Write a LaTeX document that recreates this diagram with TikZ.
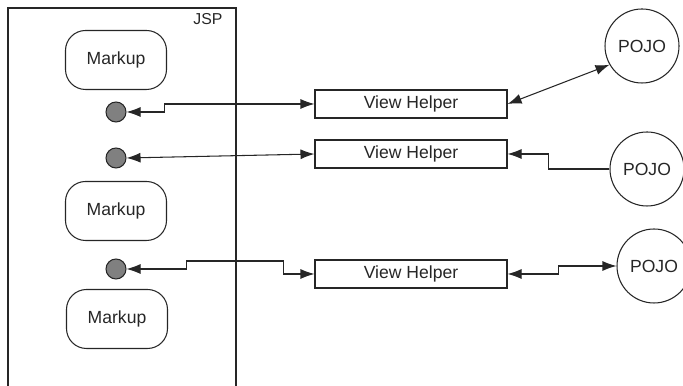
\documentclass[tikz,border=0pt]{standalone}
\usepackage{fontspec}
\setmainfont{Liberation Sans}
\usetikzlibrary{arrows.meta}
\begin{document}
\begin{tikzpicture}[line width=0.6pt,black!85,
		markup/.style={draw,rounded corners=4mm,minimum width=2.02cm,minimum height=1.18cm},
		helper/.style={draw,minimum width=3.84cm,minimum height=0.56cm,inner sep=0pt},
		pojo/.style={draw,circle,minimum size=1.48cm,inner sep=0pt},
		slot/.style={draw,circle,fill=black!50,minimum size=0.4cm,inner sep=0pt},
		tip/.style={-{Latex[length=2.8mm,width=2mm]}},
		tips/.style={{Latex[length=2.8mm,width=2mm]}-{Latex[length=2.8mm,width=2mm]}}]
			\useasboundingbox (0,0) rectangle (13.66,7.72);
			\draw (0.16,-0.2) rectangle (4.72,7.56) node[anchor=north east,inner sep=0pt,font=\small] (jsp) at (4.46,7.46) {JSP};
			\node[markup] (m1) at (2.32,6.52) {Markup};
			\node[markup] (m2) at (2.32,3.50) {Markup};
			\node[markup] (m3) at (2.34,1.34) {Markup};
			\node[slot] (c1) at (2.32,5.48) {};
			\node[slot] (c2) at (2.32,4.56) {};
			\node[slot] (c3) at (2.32,2.34) {};
			\node[helper] (vh1) at (8.22,5.64) {View Helper};
			\node[helper] (vh2) at (8.22,4.64) {View Helper};
			\node[helper] (vh3) at (8.22,2.24) {View Helper};
			\node[pojo] (p1) at (12.84,6.80) {POJO};
			\node[pojo] (p2) at (12.94,4.34) {POJO};
			\node[pojo] (p3) at (13.08,2.40) {POJO};
			\draw[tips] (c1.east) -- ++(0.76,0) |- (vh1.west);
			\draw[tips] (c2.east) -- (vh2.west);
			\draw[tips] (c3.east) -- ++(1.2,0) -- ++(0,0.16) -- ++(1.94,0) |- (vh3.west);
			\draw[tips] (vh1.east) -- (p1.210);
			\draw[tip] (p2.west) -- ++(-1.22,0) |- (vh2.east);
			\draw[tips] (vh3.east) -- ++(1.02,0) |- (p3.west);
		\end{tikzpicture}
\end{document}
